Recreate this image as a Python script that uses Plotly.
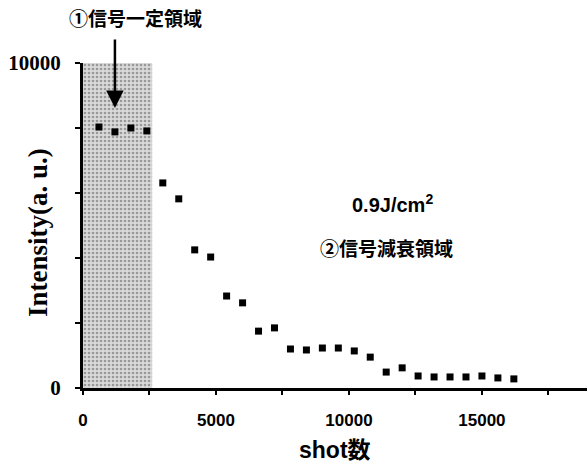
import plotly.graph_objects as go

# ---- data ----
shots = [600, 1200, 1800, 2400, 3000, 3600, 4200, 4800, 5400, 6000, 6600, 7200,
         7800, 8400, 9000, 9600, 10200, 10800, 11400, 12000, 12600, 13200,
         13800, 14400, 15000, 15600, 16200]
intensity = [8030, 7880, 8000, 7910, 6310, 5820, 4250, 4030, 2830, 2620, 1750,
             1850, 1200, 1170, 1230, 1230, 1140, 950, 490, 620, 370, 340, 340,
             340, 370, 310, 280]
region1_x = [0, 2600]          # constant-signal region (shaded)
region1_y = [0, 10000]
x_tickvals = [0, 2500, 5000, 7500, 10000, 12500, 15000, 17500]
x_ticktext = ["0", "", "5000", "", "10000", "", "15000", ""]
y_tickvals = [0, 2000, 4000, 6000, 8000, 10000]
y_ticktext = ["0", "", "", "", "", "10000"]

SERIF = "Liberation Serif, Times New Roman, serif"
SANS = "Liberation Sans, Arial, Noto Sans CJK JP, sans-serif"
CJK = "Noto Sans CJK JP, Liberation Sans, sans-serif"

fig = go.Figure()

# shaded stippled region
fig.add_trace(go.Scatter(
    x=[region1_x[0], region1_x[1], region1_x[1], region1_x[0], region1_x[0]],
    y=[region1_y[0], region1_y[0], region1_y[1], region1_y[1], region1_y[0]],
    mode="lines", line=dict(width=0), fill="toself",
    fillcolor="#d4d4d4",
    fillpattern=dict(shape=".", fgcolor="#555555", bgcolor="#dadada",
                     size=4, solidity=0.35),
    hoverinfo="skip", showlegend=False))

fig.add_trace(go.Scatter(
    x=shots, y=intensity, mode="markers",
    marker=dict(symbol="square", size=7, color="black"),
    showlegend=False))

fig.update_layout(
    width=587, height=474,
    margin=dict(l=83, r=0, t=63, b=86),
    paper_bgcolor="white", plot_bgcolor="white",
    xaxis=dict(range=[0, 18950], showgrid=False, zeroline=False,
               showline=True, linecolor="black", linewidth=3,
               ticks="outside", ticklen=4, tickwidth=2, tickcolor="black",
               tickvals=x_tickvals, ticktext=x_ticktext,
               ticklabelstandoff=11,
               tickfont=dict(family=SANS, size=17, color="black", weight="bold")),
    yaxis=dict(range=[0, 10000], showgrid=False, zeroline=False,
               showline=True, linecolor="black", linewidth=3,
               ticks="outside", ticklen=5, tickwidth=2, tickcolor="black",
               tickvals=y_tickvals, ticktext=y_ticktext,
               ticklabelstandoff=10,
               tickfont=dict(family=SERIF, size=21, color="black", weight="bold")),
    annotations=[
        dict(x=1200, y=8615, xref="x", yref="y", text="", showarrow=True,
             ax=0, ay=-70, arrowhead=2, arrowsize=1.4, arrowwidth=2.5,
             arrowcolor="black"),
        dict(x=0.105, y=1.1415, xref="paper", yref="paper",
             xanchor="center", yanchor="middle",
             text="<b>①信号一定領域</b>", showarrow=False,
             font=dict(family=CJK, size=19, color="black")),
        dict(x=0.615, y=0.569, xref="paper", yref="paper",
             xanchor="center", yanchor="middle",
             text="<b>0.9J/cm<sup>2</sup></b>", showarrow=False,
             font=dict(family=SANS, size=20, color="black")),
        dict(x=0.603, y=0.431, xref="paper", yref="paper",
             xanchor="center", yanchor="middle",
             text="<b>②信号減衰領域</b>", showarrow=False,
             font=dict(family=CJK, size=19, color="black")),
        dict(x=-0.089, y=0.477, xref="paper", yref="paper",
             xanchor="center", yanchor="middle",
             text="<b>Intensity(a. u.)</b>", showarrow=False, textangle=-90,
             font=dict(family=SERIF, size=27, color="black")),
        dict(x=0.5, y=-0.19, xref="paper", yref="paper",
             xanchor="center", yanchor="middle",
             text="<b>shot数</b>", showarrow=False,
             font=dict(family=SANS, size=23, color="black")),
    ],
)

fig.write_html("out.html")
